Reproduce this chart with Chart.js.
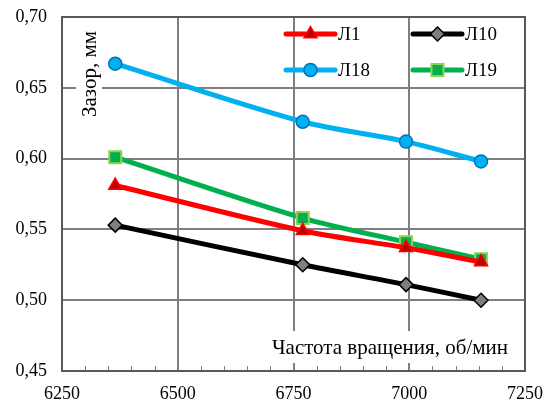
<!DOCTYPE html>
<html>
<head>
<meta charset="utf-8">
<script src="https://cdn.jsdelivr.net/npm/chart.js@4.4.1/dist/chart.umd.min.js"></script>
<style>
  html, body { margin: 0; padding: 0; background: #fff; }
  #wrap { width: 544px; height: 403px; }
</style>
</head>
<body>
<div id="wrap"><canvas id="gapChart" width="544" height="403"></canvas></div>
<script>
// rotation speed, rpm
const speeds = [6365, 6770, 6993, 7155];
// gap values, mm
const gapL1 = [0.581, 0.549, 0.537, 0.527];
const gapL10 = [0.553, 0.525, 0.511, 0.500];
const gapL18 = [0.667, 0.626, 0.612, 0.598];
const gapL19 = [0.601, 0.558, 0.541, 0.529];
const xTicks = [6250, 6500, 6750, 7000, 7250];
const yTicks = [0.45, 0.50, 0.55, 0.60, 0.65, 0.70];

const serif = '"Liberation Serif", "Times New Roman", serif';

function points(ys) {
  return speeds.map((x, i) => ({ x: x, y: ys[i] }));
}

function series(label, ys, line, fill, edge, shape, r, bw) {
  return {
    label: label,
    data: points(ys),
    borderColor: line,
    borderWidth: 5,
    backgroundColor: fill,
    pointBackgroundColor: fill,
    pointBorderColor: edge,
    pointBorderWidth: bw,
    pointStyle: shape,
    pointRadius: r,
    tension: 0.3,
  };
}

const datasets = [
  series('Л1', gapL1, '#ff0000', '#c00000', '#ff0000', 'triangle', 7.5, 1.5),
  series('Л10', gapL10, '#000000', '#7f7f7f', '#000000', 'rectRot', 7, 1.5),
  series('Л18', gapL18, '#00b0f0', '#00b0f0', '#0070c0', 'circle', 6.5, 1.5),
  series('Л19', gapL19, '#00b050', '#00b050', '#92d050', 'rect', 8.5, 2),
];

// frame, minor ticks and the two axis captions with white boxes
const decorations = {
  id: 'decorations',
  beforeDatasetsDraw(chart) {
    const { ctx, chartArea: a, scales } = chart;
    ctx.save();
    // minor ticks on the bottom axis every 50
    ctx.strokeStyle = '#7f7f7f';
    ctx.lineWidth = 1;
    for (let v = 6300; v < 7250; v += 50) {
      if (v % 250 === 0) continue;
      const px = Math.round(scales.x.getPixelForValue(v)) + 0.5;
      ctx.beginPath();
      ctx.moveTo(px, a.bottom);
      ctx.lineTo(px, a.bottom - 5);
      ctx.stroke();
    }
    ctx.font = '21px ' + serif;
    ctx.textBaseline = 'middle';
    // x caption
    const xt = 'Частота вращения, об/мин';
    const xw = ctx.measureText(xt).width;
    const xr = 508;
    ctx.fillStyle = '#fff';
    ctx.fillRect(xr - xw - 6, 331, xw + 12, 32);
    ctx.fillStyle = '#000';
    ctx.textAlign = 'right';
    ctx.fillText(xt, xr, 348);
    // y caption
    const yt = 'Зазор, мм';
    const yw = ctx.measureText(yt).width;
    ctx.translate(89, 74);
    ctx.rotate(-Math.PI / 2);
    ctx.fillStyle = '#fff';
    ctx.fillRect(-yw / 2 - 6, -13, yw + 12, 26);
    ctx.fillStyle = '#000';
    ctx.textAlign = 'center';
    ctx.fillText(yt, 0, 1);
    ctx.restore();
    // frame
    ctx.save();
    ctx.strokeStyle = '#595959';
    ctx.lineWidth = 2;
    ctx.strokeRect(a.left, a.top, a.right - a.left, a.bottom - a.top);
    ctx.restore();
  },
  afterDraw(chart) {
    // legend in two rows inside the plot
    const { ctx } = chart;
    const slots = [[286, 34], [413, 34], [286, 70], [413, 70]];
    chart.data.datasets.forEach((ds, i) => {
      const [lx, ly] = slots[i];
      ctx.save();
      ctx.strokeStyle = ds.borderColor;
      ctx.lineWidth = 5;
      ctx.lineCap = 'round';
      ctx.beginPath();
      ctx.moveTo(lx, ly);
      ctx.lineTo(lx + 49, ly);
      ctx.stroke();
      ctx.fillStyle = ds.pointBackgroundColor;
      ctx.strokeStyle = ds.pointBorderColor;
      ctx.lineWidth = ds.pointBorderWidth;
      Chart.helpers.drawPoint(ctx, {
        pointStyle: ds.pointStyle,
        radius: ds.pointRadius,
        borderWidth: ds.pointBorderWidth,
        rotation: 0,
      }, lx + 24.5, ly);
      ctx.font = '19px ' + serif;
      ctx.textBaseline = 'middle';
      ctx.textAlign = 'left';
      ctx.fillStyle = '#000';
      ctx.fillText(ds.label, lx + 52, ly + 1);
      ctx.restore();
    });
  }
};

new Chart(document.getElementById('gapChart').getContext('2d'), {
  type: 'line',
  data: { datasets: datasets },
  options: {
    responsive: false,
    animation: false,
    layout: { padding: { top: 17, right: 19, left: 0, bottom: 0 } },
    scales: {
      x: {
        type: 'linear',
        min: 6250,
        max: 7250,
        afterBuildTicks: (s) => { s.ticks = xTicks.map(v => ({ value: v })); },
        afterFit: (s) => { s.height = 32; s.paddingLeft = 0; s.paddingRight = 0; },
        grid: { color: '#7f7f7f', lineWidth: 2, drawTicks: false },
        border: { display: false },
        ticks: {
          padding: 12,
          color: '#000',
          font: { family: serif, size: 18 },
          callback: (v) => String(v),
        },
      },
      y: {
        min: 0.45,
        max: 0.70,
        afterBuildTicks: (s) => { s.ticks = yTicks.map(v => ({ value: v })); },
        afterFit: (s) => { s.width = 62; s.paddingTop = 0; s.paddingBottom = 0; },
        grid: { color: '#7f7f7f', lineWidth: 2, drawTicks: false },
        border: { display: false },
        ticks: {
          padding: 15,
          color: '#000',
          font: { family: serif, size: 18 },
          callback: (v) => v.toFixed(2).replace('.', ','),
        },
      },
    },
    plugins: {
      legend: { display: false },
      tooltip: { enabled: false },
    },
  },
  plugins: [decorations],
});
</script>
</body>
</html>
